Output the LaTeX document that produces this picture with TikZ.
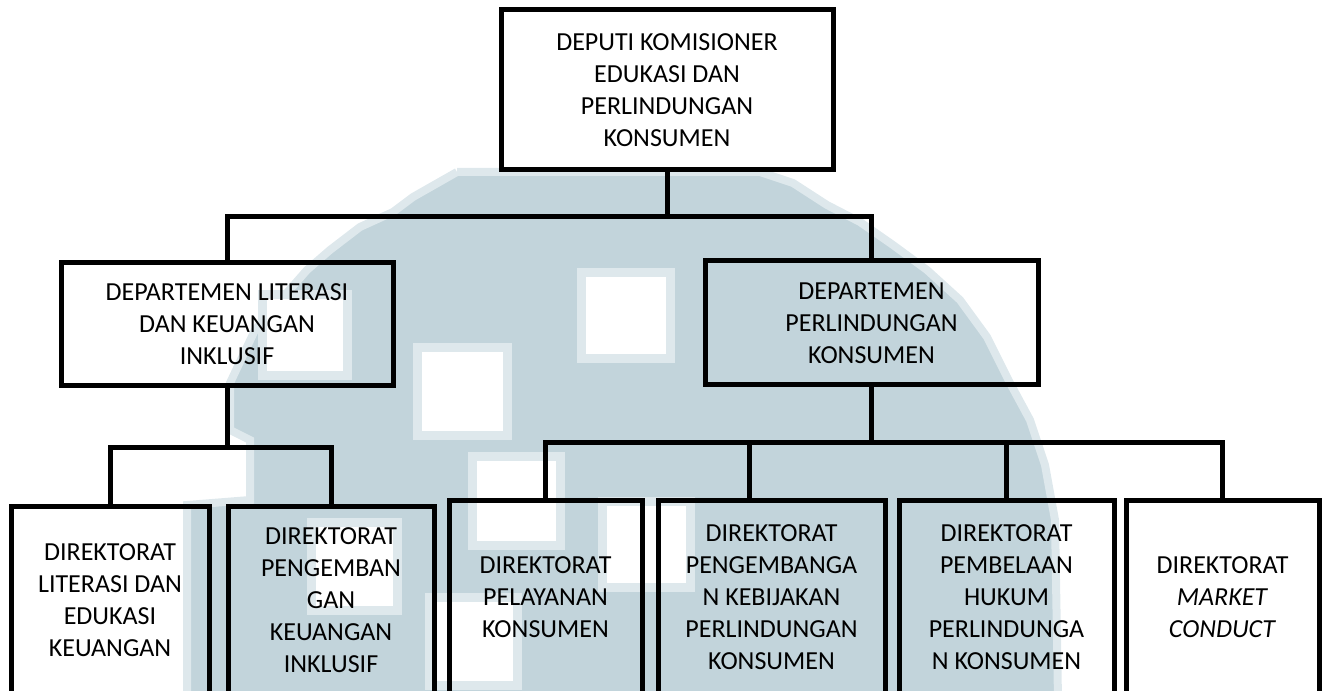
\documentclass[tikz,border=0pt]{standalone}
\usepackage{fontspec}
\setmainfont{Carlito}
\definecolor{wm}{RGB}{194,212,219}
\definecolor{wmmid}{RGB}{222,232,236}
\begin{document}
\begin{tikzpicture}[x=0.75pt,y=-0.75pt,
  box/.style={draw=black, line width=3.75pt, inner sep=0pt, align=center,
    font=\fontsize{19.5}{24}\selectfont, text=black},
  conn/.style={draw=black, line width=3.75pt},
  hole/.style={fill=wmmid}]
\useasboundingbox (0,0) rectangle (1324,691);
\begin{scope}
\clip (0,0) rectangle (1324,691);
% watermark
\fill[wm] (457,172) -- (760,172) -- (793,183) -- (827,205) -- (860,222) -- (893,245) -- (927,270) -- (960,300) -- (987,337) -- (1010,383) -- (1030,420) -- (1045,465) -- (1055,520) -- (1058,700) -- (187,700) -- (187,505) -- (250,500) -- (250,440) -- (230,430) -- (230,383) -- (255,330) -- (285,295) -- (307,270) -- (330,250) -- (360,227) -- (393,212) -- (413,197) -- cycle;
\draw[wmmid, line width=6pt] (457,172) -- (760,172) -- (793,183) -- (827,205) -- (860,222) -- (893,245) -- (927,270) -- (960,300) -- (987,337) -- (1010,383) -- (1030,420) -- (1045,465) -- (1055,520) -- (1058,700);
\draw[wmmid, line width=6pt] (187,700) -- (187,505) -- (250,500) -- (250,440) -- (230,430) -- (230,383) -- (255,330) -- (285,295) -- (307,270) -- (330,250) -- (360,227) -- (393,212) -- (413,197) -- (457,172);
\foreach \xa/\ya/\xb/\yb in {577/268/675/363, 413/343/512/440, 468/452/565/550, 307/518/402/615, 425/593/522/690, 598/497/695/592, 258/290/352/380}{
  \fill[hole] (\xa,\ya) rectangle (\xb,\yb);
  \fill[white] (\xa+9,\ya+9) rectangle (\xb-9,\yb-9);
}
% nodes
\node[box, minimum width=249pt, minimum height=120pt] (top) at (667,90)
  {DEPUTI KOMISIONER\\EDUKASI DAN\\PERLINDUNGAN\\KONSUMEN};
\node[box, minimum width=249pt, minimum height=92.25pt] (deptL) at (227,324.5)
  {DEPARTEMEN LITERASI\\DAN KEUANGAN\\INKLUSIF};
\node[box, minimum width=249.75pt, minimum height=93pt] (deptR) at (871.5,323)
  {DEPARTEMEN\\PERLINDUNGAN\\KONSUMEN};
\node[box, minimum width=148.5pt, minimum height=141.75pt] (d1) at (110,600.5)
  {DIREKTORAT\\LITERASI DAN\\EDUKASI\\KEUANGAN};
\node[box, minimum width=154.5pt, minimum height=141.75pt] (d2) at (331,600.5)
  {DIREKTORAT\\PENGEMBAN\\GAN\\KEUANGAN\\INKLUSIF};
\node[box, minimum width=144.75pt, minimum height=146.25pt] (d3) at (545.5,597.5)
  {DIREKTORAT\\PELAYANAN\\KONSUMEN};
\node[box, minimum width=170.25pt, minimum height=146.25pt] (d4) at (771.5,597.5)
  {DIREKTORAT\\PENGEMBANGA\\N KEBIJAKAN\\PERLINDUNGAN\\KONSUMEN};
\node[box, minimum width=161.25pt, minimum height=146.25pt] (d5) at (1006.5,597.5)
  {DIREKTORAT\\PEMBELAAN\\HUKUM\\PERLINDUNGA\\N KONSUMEN};
\node[box, minimum width=144.75pt, minimum height=146.25pt] (d6) at (1222.5,597.5)
  {DIREKTORAT\\\textit{MARKET}\\\textit{CONDUCT}};
% connectors
\coordinate (bus1) at (0,217);
\coordinate (bus2) at (0,447);
\coordinate (bus3) at (0,442);
\coordinate (c4) at (749,442);
\draw[conn] (top.south) -- (top.south |- bus1);
\draw[conn] (deptL.north) |- (deptR.north |- bus1) -- (deptR.north);
\draw[conn] (deptL.south) -- (deptL.south |- bus2);
\draw[conn] (d1.north) |- (d2.north |- bus2) -- (d2.north);
\draw[conn] (deptR.south) -- (deptR.south |- bus3);
\draw[conn] (d3.north) |- (d6.north |- bus3) -- (d6.north);
\draw[conn] (c4) -- (c4 |- d4.north);
\draw[conn] (d5.north |- bus3) -- (d5.north);
\end{scope}
\end{tikzpicture}
\end{document}
